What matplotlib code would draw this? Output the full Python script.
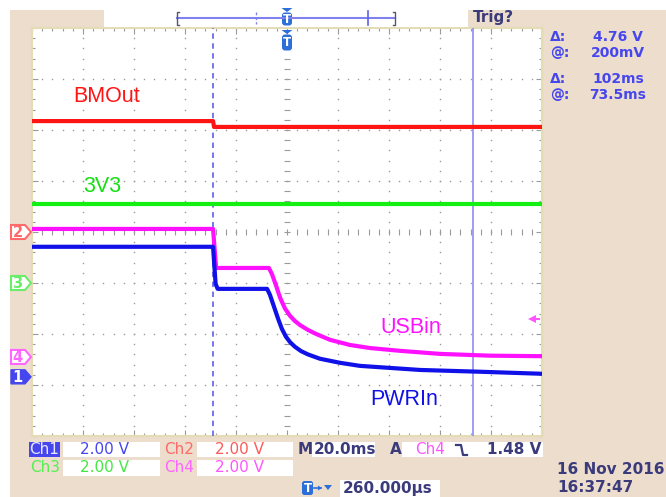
import matplotlib
matplotlib.use("Agg")
import matplotlib.pyplot as plt
from matplotlib.patches import Rectangle, Polygon, FancyBboxPatch
import numpy as np

# ---------------- data ----------------
ms_per_div = 20.0
volts_per_div = 2.0

# channel ground offsets in divisions from screen centre
ch_offsets = {"1": -2.84, "2": 0.0, "3": -1.0, "4": -2.45}

# Ch2 BMOut (red)
bm_t = [0.0, 71.0, 71.4, 200.0]
bm_v = [4.35, 4.35, 4.12, 4.12]

# Ch3 3V3 (green)
v33_t = [0.0, 200.0]
v33_v = [3.10, 3.10]

# Ch4 USBin (magenta)
usb_t = [0.0, 71.0, 72.2, 92.9, 94.1, 95.7, 97.3, 99.2, 101.2, 103.1, 105.1,
         108.2, 111.0, 116.9, 124.7, 132.5, 144.3, 160.0, 179.6, 200.0]
usb_v = [5.02, 5.02, 3.49, 3.49, 3.25, 2.80, 2.32, 1.90, 1.61, 1.41, 1.25,
         1.06, 0.92, 0.67, 0.47, 0.35, 0.24, 0.12, 0.05, 0.03]

# Ch1 PWRIn (blue)
pwr_t = [0.0, 71.0, 72.0, 72.8, 92.2, 93.3, 94.9, 96.5, 98.0, 99.6, 101.2,
         103.1, 105.5, 108.2, 112.9, 120.8, 128.6, 140.4, 152.2, 175.7, 200.0]
pwr_v = [5.10, 5.10, 3.65, 3.45, 3.45, 3.22, 2.75, 2.28, 1.88, 1.57, 1.36,
         1.18, 1.01, 0.88, 0.71, 0.55, 0.43, 0.35, 0.27, 0.20, 0.12]

cursor_t = [71.0, 173.0]
trig_level_v = 1.48

trace_labels = ["BMOut", "3V3", "USBin", "PWRIn"]

# ---------------- figure ----------------
W, H = 666, 497
fig = plt.figure(figsize=(W / 100, H / 100), dpi=100)
fig.patch.set_facecolor("white")

beige = "#ecddcc"
navy = "#3b3b7c"
cblue = "#4646ee"

bg = fig.add_axes([0, 0, 1, 1], zorder=-1)
bg.set_xlim(0, W); bg.set_ylim(H, 0); bg.axis("off")
bg.add_patch(Rectangle((10, 10), W - 10, H - 10, facecolor=beige, edgecolor="none"))

# plot area
L, R, T, B = 32, 542, 28, 436
ax = fig.add_axes([L / W, (H - B) / H, (R - L) / W, (B - T) / H], zorder=1)
ax.set_facecolor("white")
ax.set_xlim(0, 10 * ms_per_div)
ax.set_ylim(-4, 4)
for s in ax.spines.values():
    s.set_color("#e4dcb4"); s.set_linewidth(1.5)
ax.set_xticks(np.arange(0, 201, 20))
ax.set_xticks(np.arange(0, 201, 4), minor=True)
ax.set_yticks(np.arange(-4, 4.01, 1))
ax.set_yticks(np.arange(-4, 4.01, 0.2), minor=True)
ax.tick_params(which="both", direction="in", top=True, right=True,
               labelbottom=False, labelleft=False, color="#9a9a9a", width=0.8)
ax.tick_params(which="major", length=4)
ax.tick_params(which="minor", length=2.5)

# grid dots
gc = "#9a9a9a"
ys = np.arange(-4, 4.01, 0.2)
xs = np.arange(0, 200.01, 4)
for gx in np.arange(20, 200, 20):
    if abs(gx - 100) < 1e-6:
        ax.plot(np.full_like(ys, gx), ys, ls="none", marker="_", ms=5, mew=0.8, color=gc)
    else:
        ax.plot(np.full_like(ys, gx), ys, ls="none", marker="s", ms=1.0, mew=0, color=gc)
for gy in np.arange(-3, 4, 1):
    if gy == 0:
        ax.plot(xs, np.full_like(xs, gy), ls="none", marker="|", ms=5, mew=0.8, color=gc)
    else:
        ax.plot(xs, np.full_like(xs, gy), ls="none", marker="s", ms=1.0, mew=0, color=gc)

# cursors
ax.axvline(cursor_t[0], color="#6a6aee", lw=1.3, ls=(0, (3, 2.5)), zorder=3)
ax.axvline(cursor_t[1], color="#8c8cf2", lw=1.2, zorder=3)

def to_div(v, ch):
    return np.asarray(v) / volts_per_div + ch_offsets[ch]

lw = 3.0
ax.plot(bm_t, to_div(bm_v, "2"), color="#ff1414", lw=lw, zorder=4)
ax.plot(v33_t, to_div(v33_v, "3"), color="#14f014", lw=lw, zorder=4)
ax.plot(usb_t, to_div(usb_v, "4"), color="#ff10ff", lw=lw, zorder=4,
        solid_joinstyle="round")
ax.plot(pwr_t, to_div(pwr_v, "1"), color="#1010e8", lw=lw, zorder=4,
        solid_joinstyle="round")

# trigger level arrow (Ch4)
ty = to_div(trig_level_v, "4")
ax.plot([196.0], [ty], marker="<", ms=6, color="#ff55ff", mew=0, zorder=5)
ax.plot([196.0, 199.0], [ty, ty], color="#ff55ff", lw=1.5, zorder=5)

lab_font = "Liberation Sans"
ax.text(29.2, to_div(0, "2") + 2.65, trace_labels[0], color="#ff1414",
        fontsize=15.5, family=lab_font, ha="center", va="center")
ax.text(27.5, to_div(0, "3") + 1.90, trace_labels[1], color="#14e014",
        fontsize=15.5, family=lab_font, ha="center", va="center")
ax.text(148.5, to_div(0, "4") + 0.57, trace_labels[2], color="#ff10ff",
        fontsize=15.5, family=lab_font, ha="center", va="center")
ax.text(146.0, to_div(0, "1") - 0.45, trace_labels[3], color="#1010e8",
        fontsize=15.5, family=lab_font, ha="center", va="center")

# overlay axes for screen furniture drawn above everything
ov = fig.add_axes([0, 0, 1, 1], zorder=5)
ov.set_xlim(0, W); ov.set_ylim(H, 0); ov.axis("off"); ov.patch.set_alpha(0)

# record bar at the top
ov.add_patch(Rectangle((104, 10), 364, 16.5, facecolor="white", edgecolor="none"))
ov.plot([177, 395], [18, 18], color="#8080ee", lw=1.5)
ov.plot([179, 177, 177, 179], [11.5, 11.5, 24.5, 24.5], color="#555577", lw=1)
ov.plot([393, 395, 395, 393], [11.5, 11.5, 24.5, 24.5], color="#555577", lw=1)
ov.plot([256, 256], [12, 24], color="#8080ee", lw=1, ls=(0, (2, 1.5)))
ov.plot([368, 368], [11, 25], color="#6060ee", lw=1.2)

def tmark(x, ytop, h):
    ov.add_patch(Polygon([(x - 5.5, ytop), (x + 5.5, ytop), (x, ytop + 4)],
                         closed=True, facecolor="#2c6fd8", edgecolor="none"))
    ov.add_patch(FancyBboxPatch((x - 5, ytop + 4.5), 10, h, boxstyle="round,pad=0,rounding_size=3",
                                facecolor="#2c6fd8", edgecolor="none"))
    ov.text(x, ytop + 4.5 + h / 2 + 0.5, "T", color="white", fontsize=8.5, weight="bold",
            ha="center", va="center")

tmark(287, 8, 13)
tmark(287, 30, 16)

ov.text(473, 17.5, "Trig?", color=navy, fontsize=11, weight="bold", ha="left", va="center")

# cursor readouts
rows = [("Δ:", "4.76 V", 37), ("@:", "200mV", 53), ("Δ:", "102ms", 79), ("@:", "73.5ms", 95)]
for a, b, y in rows:
    ov.text(550, y, a, color=cblue, fontsize=10, weight="bold", ha="left", va="center")
    ov.text(618, y, b, color=cblue, fontsize=10, weight="bold", ha="center", va="center")

# channel ground markers at left
mk_cols = {"1": "#4646ee", "2": "#ff6a6a", "3": "#6aee6a", "4": "#ff66ff"}
for ch in ["2", "3", "4", "1"]:
    yc = 232 - ch_offsets[ch] * 51
    pts = [(11, yc - 7), (25, yc - 7), (31, yc), (25, yc + 7), (11, yc + 7)]
    if ch == "1":
        ov.add_patch(Polygon(pts, closed=True, facecolor=mk_cols[ch], edgecolor=mk_cols[ch], lw=1))
        ov.text(17.5, yc + 0.5, ch, color="white", fontsize=10.5, weight="bold",
                ha="center", va="center")
    else:
        ov.add_patch(Polygon(pts, closed=True, facecolor="white", edgecolor=mk_cols[ch], lw=1.5))
        ov.text(17.5, yc + 0.5, ch, color=mk_cols[ch], fontsize=10.5, weight="bold",
                ha="center", va="center")

# bottom status area
def wbox(x0, x1, y0, y1):
    ov.add_patch(Rectangle((x0, y0), x1 - x0, y1 - y0, facecolor="white", edgecolor="none"))

fs = 11
ov.add_patch(Rectangle((29, 442), 31, 15, facecolor="#4646ee", edgecolor="none"))
ov.text(44.5, 450, "Ch1", color="#e8e8ff", fontsize=fs, ha="center", va="center")
wbox(63, 160, 442, 457)
ov.text(80, 450, "2.00 V", color="#4646ee", fontsize=fs, ha="left", va="center")
ov.text(179, 450, "Ch2", color="#ff6a6a", fontsize=fs, ha="center", va="center")
wbox(197, 293, 442, 457)
ov.text(215, 450, "2.00 V", color="#ff5a5a", fontsize=fs, ha="left", va="center")
ov.text(298, 450, "M", color=navy, fontsize=fs, weight="bold", ha="left", va="center")
wbox(312, 375, 442, 457)
ov.text(314, 450, "20.0ms", color=navy, fontsize=fs, weight="bold", ha="left", va="center")
ov.text(390, 450, "A", color=navy, fontsize=fs, weight="bold", ha="left", va="center")
wbox(402, 543, 442, 457)
ov.text(415, 450, "Ch4", color="#ff55ff", fontsize=fs, ha="left", va="center")
ov.plot([456, 461, 463, 467], [445, 445, 455, 455], color=navy, lw=1.6)
ov.text(541, 450, "1.48 V", color=navy, fontsize=fs, weight="bold", ha="right", va="center")

ov.text(45, 468, "Ch3", color="#55ee55", fontsize=fs, ha="center", va="center")
wbox(63, 160, 460, 476)
ov.text(80, 468, "2.00 V", color="#44e844", fontsize=fs, ha="left", va="center")
ov.text(179, 468, "Ch4", color="#ff66ff", fontsize=fs, ha="center", va="center")
wbox(197, 293, 460, 476)
ov.text(215, 468, "2.00 V", color="#ff55ff", fontsize=fs, ha="left", va="center")

ov.add_patch(FancyBboxPatch((302, 481), 11, 14, boxstyle="round,pad=0,rounding_size=2.5",
                            facecolor="#2c6fd8", edgecolor="none"))
ov.text(307.5, 488.5, "T", color="white", fontsize=8.5, weight="bold", ha="center", va="center")
ov.plot([314, 321], [488, 488], color="#2c6fd8", lw=1.2)
ov.add_patch(Polygon([(318, 485.5), (322, 488), (318, 490.5)], closed=True,
                     facecolor="#2c6fd8", edgecolor="none"))
ov.add_patch(Polygon([(324, 485), (332, 485), (328, 490)], closed=True,
                     facecolor="#2c6fd8", edgecolor="none"))
wbox(340, 440, 480, 497)
ov.text(343, 488.5, "260.000µs", color=navy, fontsize=fs, weight="bold", ha="left", va="center")

ov.text(557, 470, "16 Nov 2016", color=navy, fontsize=fs, weight="bold", ha="left", va="center")
ov.text(557, 488, "16:37:47", color=navy, fontsize=fs, weight="bold", ha="left", va="center")

fig.savefig("out.png", dpi=100, facecolor=fig.get_facecolor())
